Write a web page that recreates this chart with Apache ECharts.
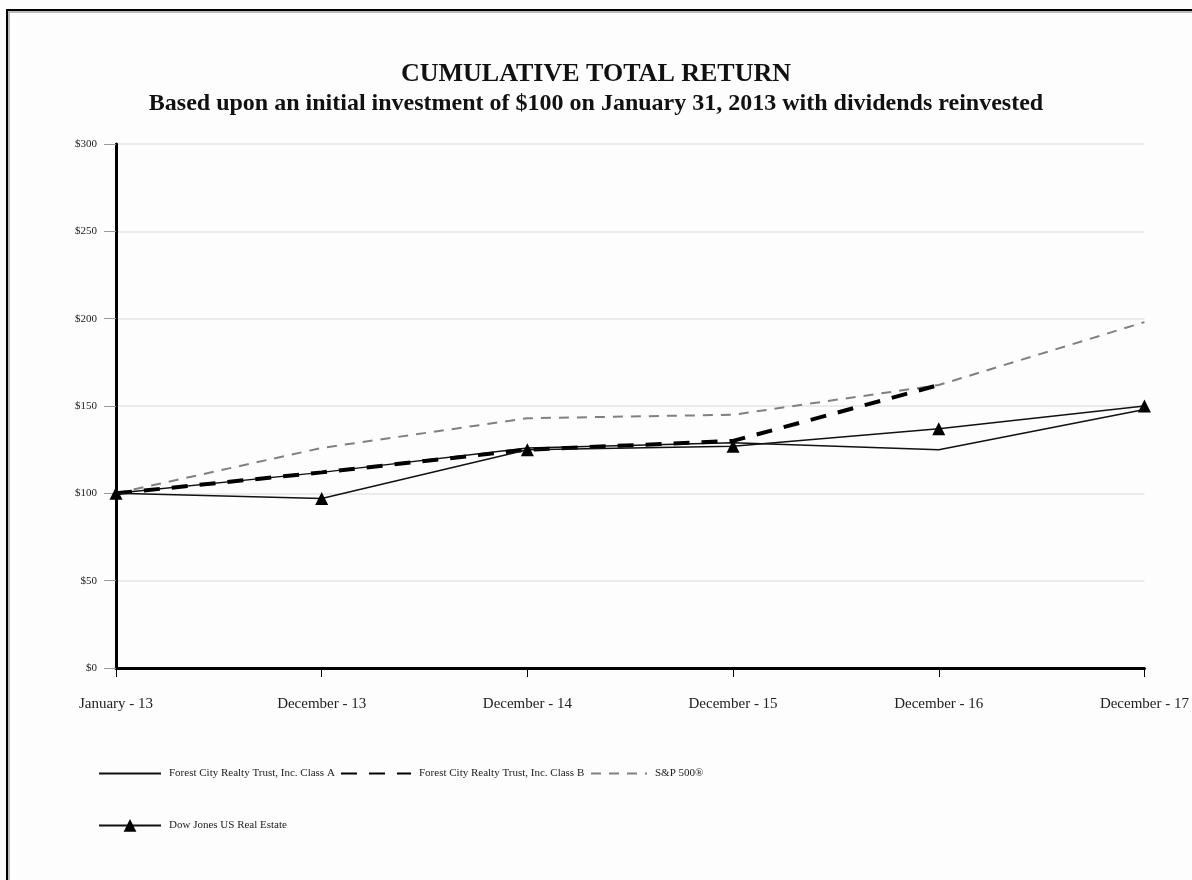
<!DOCTYPE html>
<html>
<head>
<meta charset="utf-8">
<title>Cumulative Total Return</title>
<script src="https://cdn.jsdelivr.net/npm/echarts@6/dist/echarts.min.js"></script>
<style>
  html, body { margin: 0; padding: 0; background: #fdfdfd; }
  #frame {
    position: absolute; left: 6px; top: 9px; width: 1200px; height: 880px;
    border-left: 2px solid #000; border-top: 2px solid #000;
    box-shadow: inset 2px 2px 0 #bbb;
  }
  #chart { position: absolute; left: 0; top: 0; width: 1192px; height: 880px; }
</style>
</head>
<body>
<div id="frame"></div>
<div id="chart"></div>
<script>
// 日期刻度
const categories = ["January - 13", "December - 13", "December - 14", "December - 15", "December - 16", "December - 17"];
const seriesNames = [
  "Forest City Realty Trust, Inc. Class A",
  "Forest City Realty Trust, Inc. Class B",
  "S&P 500®",
  "Dow Jones US Real Estate"
];
// 各序列数值
const classA = [100, 112, 126, 129, 125, 148];
const classB = [100, 112, 125, 130, 162, null];
const sp500 = [100, 126, 143, 145, 162, 198];
const dowJones = [100, 97, 125, 127, 137, 150];
const yTicks = [0, 50, 100, 150, 200, 250, 300];

const serif = "Liberation Serif";
const chart = echarts.init(document.getElementById("chart"));

function legendAt(name, left, top, width, hideSymbol) {
  return {
    data: [name],
    left: left,
    top: top,
    padding: 0,
    itemWidth: width,
    itemHeight: 16,
    itemGap: 0,
    selectedMode: false,
    itemStyle: hideSymbol ? { opacity: 0 } : {},
    textStyle: { fontFamily: serif, fontSize: 11, color: "#222", padding: [0, 0, 0, 3] }
  };
}

chart.setOption({
  animation: false,
  title: {
    text: "CUMULATIVE TOTAL RETURN",
    subtext: "Based upon an initial investment of $100 on January 31, 2013 with dividends reinvested",
    left: "center",
    top: 56,
    itemGap: 5,
    textStyle: { fontFamily: serif, fontWeight: "bold", fontSize: 26, color: "#111" },
    subtextStyle: { fontFamily: serif, fontWeight: "bold", fontSize: 24, color: "#111" }
  },
  legend: [
    legendAt(seriesNames[0], 98, 767, 62, true),
    legendAt(seriesNames[1], 340, 767, 70, true),
    legendAt(seriesNames[2], 590, 767, 56, true),
    legendAt(seriesNames[3], 98, 819, 62, false)
  ],
  grid: { left: 116, right: 47, top: 144, bottom: 212 },
  xAxis: {
    type: "category",
    data: categories,
    boundaryGap: false,
    axisLine: { lineStyle: { color: "#000", width: 3 } },
    axisTick: { show: true, length: 9, lineStyle: { color: "#000", width: 1 } },
    axisLabel: { fontFamily: serif, fontSize: 15, color: "#222", margin: 29 },
    splitLine: { show: false }
  },
  yAxis: {
    type: "value",
    min: 0,
    max: 300,
    interval: 50,
    axisLine: { show: true, lineStyle: { color: "#000", width: 3 } },
    axisTick: { show: true, length: 12, lineStyle: { color: "#999", width: 1 } },
    axisLabel: {
      fontFamily: serif, fontSize: 11, color: "#222", margin: 19,
      formatter: v => yTicks.includes(v) ? "$" + v : ""
    },
    splitLine: { show: true, lineStyle: { color: "#e4e4e4", width: 1.5 } }
  },
  series: [
    {
      name: seriesNames[2],
      type: "line",
      data: sp500,
      symbol: "none",
      z: 1,
      lineStyle: { color: "#808080", width: 2, type: [10, 8] },
      itemStyle: { color: "#808080" }
    },
    {
      name: seriesNames[0],
      type: "line",
      data: classA,
      symbol: "none",
      z: 2,
      lineStyle: { color: "#111", width: 1.5 },
      itemStyle: { color: "#111" }
    },
    {
      name: seriesNames[1],
      type: "line",
      data: classB,
      symbol: "none",
      z: 3,
      lineStyle: { color: "#000", width: 4, type: [16, 12] },
      itemStyle: { color: "#000" }
    },
    {
      name: seriesNames[3],
      type: "line",
      data: dowJones,
      symbol: "triangle",
      symbolSize: 13,
      z: 4,
      lineStyle: { color: "#111", width: 1.5 },
      itemStyle: { color: "#000" }
    }
  ]
});
</script>
</body>
</html>
